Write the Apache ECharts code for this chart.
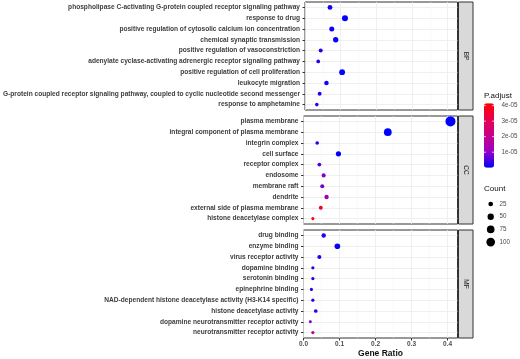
<!DOCTYPE html>
<html>
<head>
<meta charset="utf-8">
<script src="https://cdn.jsdelivr.net/npm/echarts@6/dist/echarts.min.js"></script>
<style>html,body{margin:0;padding:0;background:#fff;}#c{width:520px;height:359px;}</style>
</head>
<body>
<div id="c"></div>
<script>
// ---------------- data ----------------
const bpTerms = [
  'phospholipase C-activating G-protein coupled receptor signaling pathway',
  'response to drug',
  'positive regulation of cytosolic calcium ion concentration',
  'chemical synaptic transmission',
  'positive regulation of vasoconstriction',
  'adenylate cyclase-activating adrenergic receptor signaling pathway',
  'positive regulation of cell proliferation',
  'leukocyte migration',
  'G-protein coupled receptor signaling pathway, coupled to cyclic nucleotide second messenger',
  'response to amphetamine'
];
const bpRatio = [0.070, 0.112, 0.075, 0.086, 0.044, 0.037, 0.104, 0.060, 0.041, 0.033];
const bpCount = [27, 44, 29, 34, 17, 14, 41, 23, 16, 13];
const bpPadj  = [1.5e-6, 2e-7, 1.2e-6, 8e-7, 2e-6, 2.5e-6, 5e-7, 1.5e-6, 2e-6, 2.5e-6];

const ccTerms = [
  'plasma membrane',
  'integral component of plasma membrane',
  'integrin complex',
  'cell surface',
  'receptor complex',
  'endosome',
  'membrane raft',
  'dendrite',
  'external side of plasma membrane',
  'histone deacetylase complex'
];
const ccRatio = [0.408, 0.234, 0.038, 0.097, 0.044, 0.056, 0.052, 0.064, 0.048, 0.026];
const ccCount = [135, 77, 13, 32, 15, 18, 17, 21, 16, 9];
const ccPadj  = [1e-12, 1e-9, 2e-6, 1e-7, 5e-6, 9e-6, 8e-6, 1.1e-5, 3.5e-5, 3.95e-5];

const mfTerms = [
  'drug binding',
  'enzyme binding',
  'virus receptor activity',
  'dopamine binding',
  'serotonin binding',
  'epinephrine binding',
  'NAD-dependent histone deacetylase activity (H3-K14 specific)',
  'histone deacetylase activity',
  'dopamine neurotransmitter receptor activity',
  'neurotransmitter receptor activity'
];
const mfRatio = [0.056, 0.094, 0.044, 0.026, 0.026, 0.022, 0.026, 0.034, 0.019, 0.026];
const mfCount = [22, 38, 18, 10, 10, 9, 10, 14, 8, 10];
const mfPadj  = [2.5e-6, 2e-7, 2.5e-6, 2e-6, 2e-6, 2e-6, 2e-6, 3e-6, 8e-6, 2.0e-5];

const facetNames = ['BP', 'CC', 'MF'];
const xTicks = [0, 0.1, 0.2, 0.3, 0.4];
const xTickLabels = ['0.0', '0.1', '0.2', '0.3', '0.4'];
const padjTicks = [1e-5, 2e-5, 3e-5, 4e-5];
const padjTickLabels = ['1e-05', '2e-05', '3e-05', '4e-05'];
const countTicks = [25, 50, 75, 100];

// ---------------- layout / style ----------------
const FONT = 'Liberation Sans, Arial, sans-serif';
const PL = 303.5, PW = 154, PH = 108;
const PTOPS = [2, 116, 230];
const XMAX = 0.4275;
const PADJ_MAX = 4.15e-5;
const COLORS = ['#0000FF', '#9A00C3', '#C90089', '#E8004F', '#FF0000'];
const sizeFn = c => 0.8 * Math.sqrt(c) + 0.7;

const facets = [
  {terms: bpTerms, ratio: bpRatio, count: bpCount, padj: bpPadj},
  {terms: ccTerms, ratio: ccRatio, count: ccCount, padj: ccPadj},
  {terms: mfTerms, ratio: mfRatio, count: mfCount, padj: mfPadj}
];

const grids = [], xAxes = [], yAxes = [], series = [], graphics = [];
facets.forEach((f, i) => {
  const isBottom = i === facets.length - 1;
  grids.push({left: PL, top: PTOPS[i], width: PW, height: PH, show: true,
    backgroundColor: '#fff', borderColor: '#333', borderWidth: 1, containLabel: false});
  xAxes.push({
    type: 'value', gridIndex: i, min: 0, max: XMAX, interval: 0.1,
    axisLine: {show: false},
    axisTick: {show: isBottom, length: 2.5, lineStyle: {color: '#333'}, customValues: xTicks},
    axisLabel: {show: isBottom, customValues: xTicks, margin: 2.5,
      formatter: v => { const k = xTicks.findIndex(t => Math.abs(t - v) < 1e-9); return k >= 0 ? xTickLabels[k] : ''; },
      fontFamily: FONT, fontSize: 6.5, fontWeight: 'bold', color: '#4d4d4d'},
    splitLine: {show: true, lineStyle: {color: '#EBEBEB', width: 0.8}},
    minorTick: {show: false, splitNumber: 2},
    minorSplitLine: {show: true, lineStyle: {color: '#F4F4F4', width: 0.5}},
    name: isBottom ? 'Gene Ratio' : '', nameLocation: 'middle', nameGap: 11,
    nameTextStyle: {fontFamily: FONT, fontSize: 8.5, fontWeight: 'bold', color: '#111'}
  });
  yAxes.push({
    type: 'category', gridIndex: i, inverse: true, data: f.terms,
    axisLine: {show: false},
    axisTick: {show: true, length: 2.5, alignWithLabel: true, lineStyle: {color: '#333'}},
    axisLabel: {show: true, interval: 0, margin: 5, fontFamily: FONT, fontSize: 6.6,
      fontWeight: 'bold', color: '#3d3d3d'},
    splitLine: {show: true, alignWithLabel: true, interval: 0, lineStyle: {color: '#EBEBEB', width: 0.8}}
  });
  series.push({
    type: 'scatter', xAxisIndex: i, yAxisIndex: i,
    data: f.ratio.map((r, k) => [r, k, f.padj[k], f.count[k]]),
    encode: {x: 0, y: 1},
    symbol: 'circle',
    symbolSize: v => sizeFn(v[3]),
    itemStyle: {opacity: 1},
    z: 3
  });
  // facet strip
  graphics.push({type: 'rect', shape: {x: PL + PW + 1, y: PTOPS[i], width: 14.5, height: PH},
    style: {fill: '#D9D9D9', stroke: '#333', lineWidth: 1}, z: 10});
  graphics.push({type: 'text', x: PL + PW + 1 + 7.25, y: PTOPS[i] + PH / 2, rotation: -Math.PI / 2,
    style: {text: facetNames[i], fill: '#1a1a1a', font: '6.5px ' + FONT, align: 'center', verticalAlign: 'middle'}, z: 11});
});

// P.adjust legend (colour bar drawn by visualMap)
const CB_L = 484, CB_T = 103.3, CB_W = 10, CB_H = 64.4;
graphics.push({type: 'text', x: CB_L, y: CB_T - 7.5, style: {text: 'P.adjust', fill: '#111', font: '8px ' + FONT, align: 'left', verticalAlign: 'middle'}});
padjTicks.forEach((v, k) => {
  const y = CB_T + (PADJ_MAX - v) / PADJ_MAX * CB_H;
  graphics.push({type: 'line', shape: {x1: CB_L, y1: y, x2: CB_L + 2, y2: y}, style: {stroke: '#fff', lineWidth: 0.7}, z: 20});
  graphics.push({type: 'line', shape: {x1: CB_L + CB_W - 2, y1: y, x2: CB_L + CB_W, y2: y}, style: {stroke: '#fff', lineWidth: 0.7}, z: 20});
  graphics.push({type: 'text', x: CB_L + CB_W + 7.5, y: y, style: {text: padjTickLabels[k], fill: '#4d4d4d', font: '6.3px ' + FONT, align: 'left', verticalAlign: 'middle'}});
});

// Count legend
graphics.push({type: 'text', x: CB_L, y: 189, style: {text: 'Count', fill: '#111', font: '8px ' + FONT, align: 'left', verticalAlign: 'middle'}});
countTicks.forEach((c, k) => {
  const y = 204 + k * 12.7;
  graphics.push({type: 'circle', shape: {cx: 490.7, cy: y, r: sizeFn(c) / 2}, style: {fill: '#000'}});
  graphics.push({type: 'text', x: 499.5, y: y, style: {text: String(c), fill: '#4d4d4d', font: '6.3px ' + FONT, align: 'left', verticalAlign: 'middle'}});
});

const chart = echarts.init(document.getElementById('c'), null, {renderer: 'canvas'});
chart.setOption({
  animation: false,
  backgroundColor: '#fff',
  grid: grids,
  xAxis: xAxes,
  yAxis: yAxes,
  visualMap: {
    type: 'continuous', dimension: 2, seriesIndex: [0, 1, 2],
    min: 0, max: PADJ_MAX, calculable: false, hoverLink: false,
    orient: 'vertical', left: CB_L, top: CB_T, itemWidth: CB_W, itemHeight: CB_H,
    padding: 0, text: null, showLabel: false,
    inRange: {color: COLORS}
  },
  series: series,
  graphic: graphics
});
</script>
</body>
</html>
